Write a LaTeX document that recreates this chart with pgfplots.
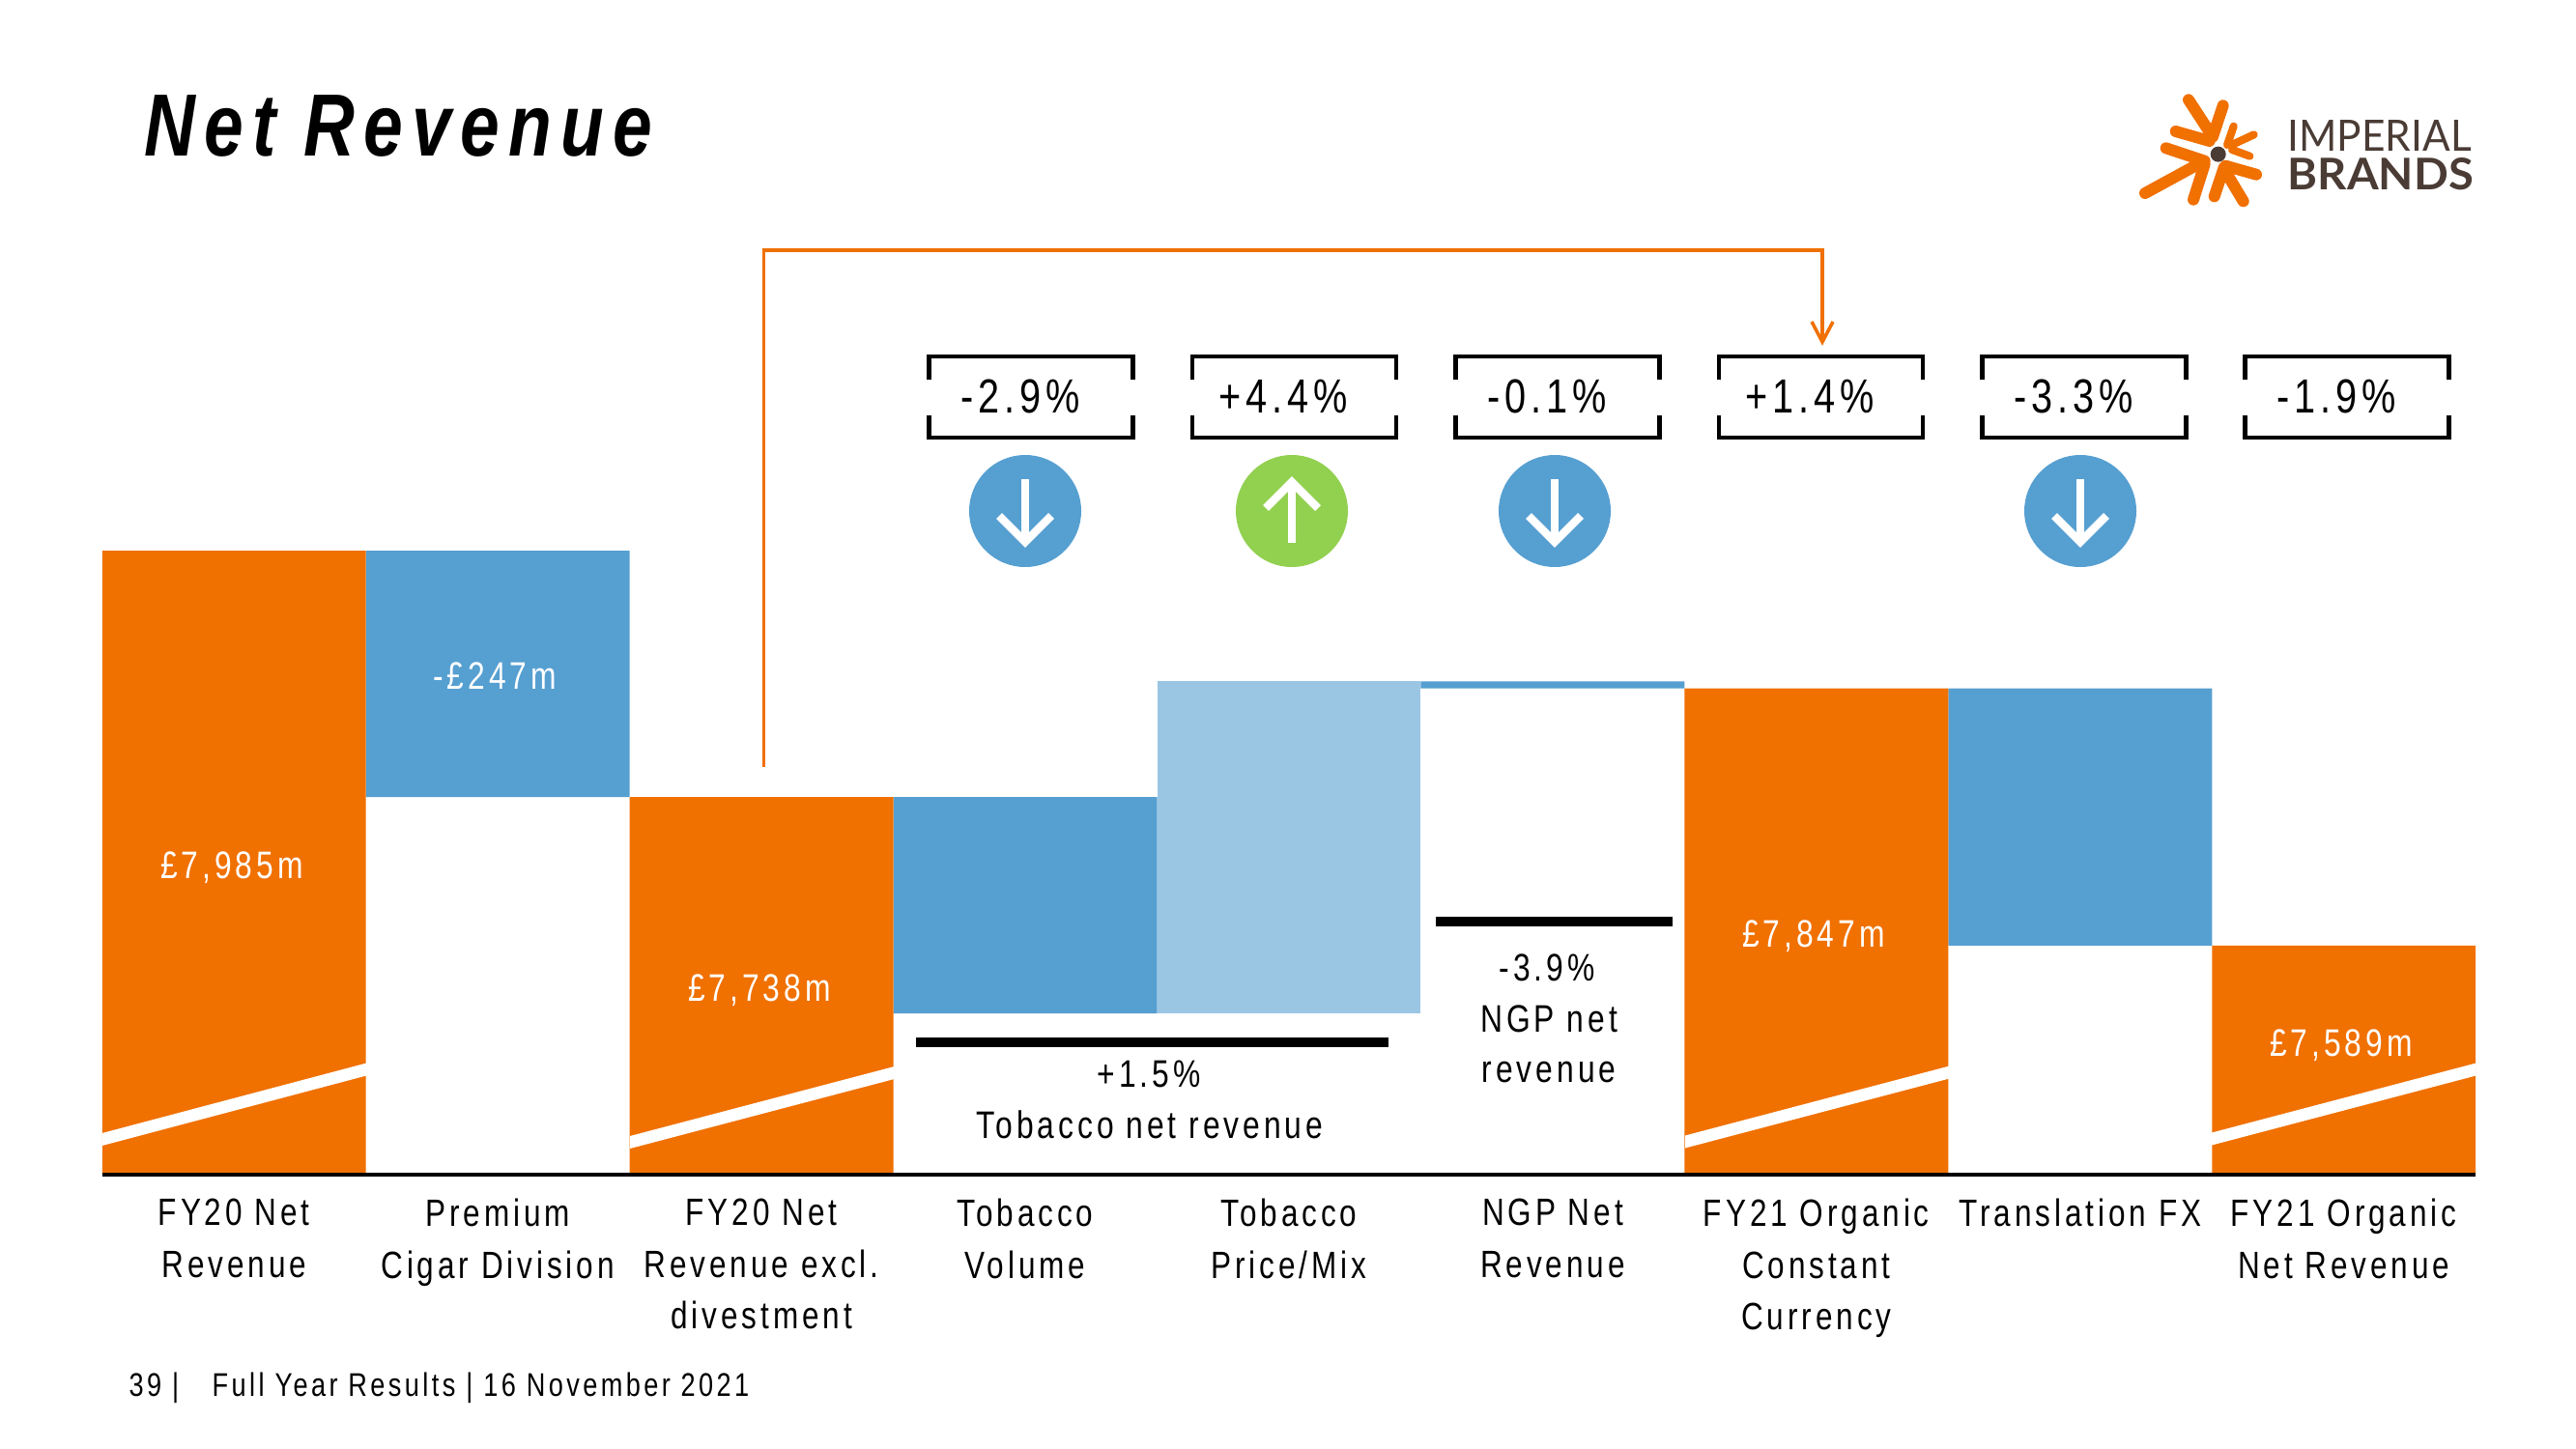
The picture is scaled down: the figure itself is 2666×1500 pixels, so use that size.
\documentclass[border=0pt]{standalone}
\usepackage{graphicx}
\usepackage{fontspec}
\setmainfont{Liberation Sans}[FakeStretch=0.8,LetterSpace=10]
\newfontfamily\logofont{Lato}
\usepackage{pgfplots}
\usepackage{pgfplotstable}
\pgfplotsset{compat=1.18}
\definecolor{iorange}{HTML}{F07000}
\definecolor{iblue}{HTML}{569FD1}
\definecolor{ilight}{HTML}{9AC6E4}
\definecolor{igreen}{HTML}{92D050}
\definecolor{ibrown}{HTML}{4A3C35}
\pgfplotstableread{
x    base total down up
0.5  0    7985  0    0
1.5  7738 0     247  0
2.5  0    7738  0    0
3.5  7521 0     217  0
4.5  7521 0     0    333
5.5  7847 0     7    0
6.5  0    7847  0    0
7.5  7589 0     258  0
8.5  0    7589  0    0
}\bridge
\newcommand{\lab}{\fontsize{11.3}{15.1}\selectfont}
\newcommand{\ticklab}{\fontsize{11.2}{15.2}\selectfont}
\newcommand{\pct}[2]{%
  \draw[line width=4.4pt/3.515,black] (#1+1.5,393)--(#1+1.5,369)--(#1+212.5,369)--(#1+212.5,393);
  \draw[line width=4.4pt/3.515,black] (#1+1.5,430)--(#1+1.5,453)--(#1+212.5,453)--(#1+212.5,430);
  \node[font=\fontsize{14.1}{16}\selectfont] at (#1+96,410) {#2};}
\newcommand{\downc}[1]{%
  \fill[iblue] (#1,529) circle[radius=58];
  \draw[white,line width=2.4pt] (#1,496)--(#1,558);
  \draw[white,line width=2.4pt,miter limit=10] (#1-27,534)--(#1,561)--(#1+27,534);}
\newcommand{\stripe}[3]{%
  \fill[white] (#1,#2-6.5)--(#1+273.5,#3-6.5)--(#1+273.5,#3+6.5)--(#1,#2+6.5)--cycle;}
\begin{document}
\begin{tikzpicture}[x=0.01cm,y=-0.01cm]
\fill[white] (0,0) rectangle (2666,1500);
\path[use as bounding box] (0,0) rectangle (2666,1500);
\begin{axis}[
  at={(1.057cm,-12.156cm)}, anchor=origin,
  scale only axis, width=24.55cm, height=6.456cm,
  xmin=0, xmax=9, ymin=7359, ymax=7985,
  ybar stacked, bar width=1,
  axis x line=bottom, axis y line=none,
  axis line style={black,line width=0.8pt,-},
  xtick={0.5,1.5,...,8.5},
  xticklabels={{FY20 Net\\Revenue},{Premium\\Cigar Division},{FY20 Net\\Revenue excl.\\divestment},{Tobacco\\Volume},{Tobacco\\Price/Mix},{NGP Net\\Revenue},{FY21 Organic\\Constant\\Currency},{Translation FX},{FY21 Organic\\Net Revenue}},
  xticklabel style={align=center,anchor=north,font=\ticklab,yshift=-3.6pt},
  major tick length=0pt,
]
\addplot[draw=none,fill=none] table[x=x,y=base] {\bridge};
\addplot[draw=none,fill=iorange] table[x=x,y=total] {\bridge};
\addplot[draw=none,fill=iblue] table[x=x,y=down] {\bridge};
\addplot[draw=none,fill=ilight] table[x=x,y=up] {\bridge};
\end{axis}
% break stripes
\stripe{105.7}{1179.5}{1107}
\stripe{652}{1182.5}{1110.5}
\stripe{1744}{1182}{1110}
\stripe{2289}{1179}{1107}
\draw[black,line width=0.8pt] (105.7,1215.6)--(2562,1215.6);
% title
\node[anchor=west,font=\fontsize{26}{30}\selectfont\bfseries\itshape] at (137,130) {Net Revenue};
% connector
\draw[iorange,line width=1pt] (790.6,794)--(790.6,259)--(1886,259)--(1886,352);
\draw[iorange,line width=1pt] (1875,333)--(1886,354)--(1897,333);
% brackets
\pct{960}{-2.9\%}
\pct{1232.5}{+4.4\%}
\pct{1505}{-0.1\%}
\pct{1777.5}{+1.4\%}
\pct{2050}{-3.3\%}
\pct{2322}{-1.9\%}
% circles
\downc{1061}
\fill[igreen] (1337,529) circle[radius=58];
\draw[white,line width=2.4pt] (1337,500)--(1337,562);
\draw[white,line width=2.4pt,miter limit=10] (1310,526)--(1337,499)--(1364,526);
\downc{1609}
\downc{2153}
% bar labels
\node[white,font=\lab] at (512,700) {-£247m};
\node[white,font=\lab] at (240,898) {£7,985m};
\node[white,font=\lab] at (786,1025) {£7,738m};
\node[white,font=\lab] at (1877,969) {£7,847m};
\node[white,font=\lab] at (2423,1082) {£7,589m};
% group notes
\draw[black,line width=10pt/3.515] (948,1079)--(1437,1079);
\draw[black,line width=10pt/3.515] (1486,954)--(1731,954);
\node[font=\lab] at (1189,1112) {+1.5\%};
\node[font=\lab] at (1190,1164) {Tobacco net revenue};
\node[font=\lab] at (1601,1002) {-3.9\%};
\node[font=\lab] at (1603,1055) {NGP net};
\node[font=\lab] at (1603,1110) {revenue};
% footer
\node[anchor=west,inner sep=0pt,font=\fontsize{9.65}{11}\selectfont] at (133,1437) {39 |};
\node[anchor=west,inner sep=0pt,font=\fontsize{9.65}{11}\selectfont] at (219,1437) {Full Year Results | 16 November 2021};
% logo
\begin{scope}[shift={(2150,60)},x=0.01cm/3,y=-0.01cm/3,line cap=round,iorange]
  \draw[line width=3.4pt] (345,130)--(420,245) (452,148)--(420,245) (305,228)--(410,258);
  \draw[line width=3.4pt] (275,280)--(395,320) (210,420)--(375,330) (360,440)--(395,330);
  \draw[line width=3.4pt] (425,430)--(455,340) (515,445)--(455,345) (555,362)--(460,335);
  \draw[line width=2.3pt] (485,212)--(465,270) (548,238)--(475,272) (535,305)--(480,285);
  \fill[ibrown] (437,299) circle[radius=24];
\end{scope}
\node[anchor=south west,inner sep=0pt,ibrown] at (2367,157) {\resizebox{1.90cm}{0.32cm}{\logofont IMPERIAL}};
\node[anchor=south west,inner sep=0pt,ibrown] at (2367,198) {\resizebox{1.92cm}{0.33cm}{\logofont\bfseries BRANDS}};
\end{tikzpicture}
\end{document}
